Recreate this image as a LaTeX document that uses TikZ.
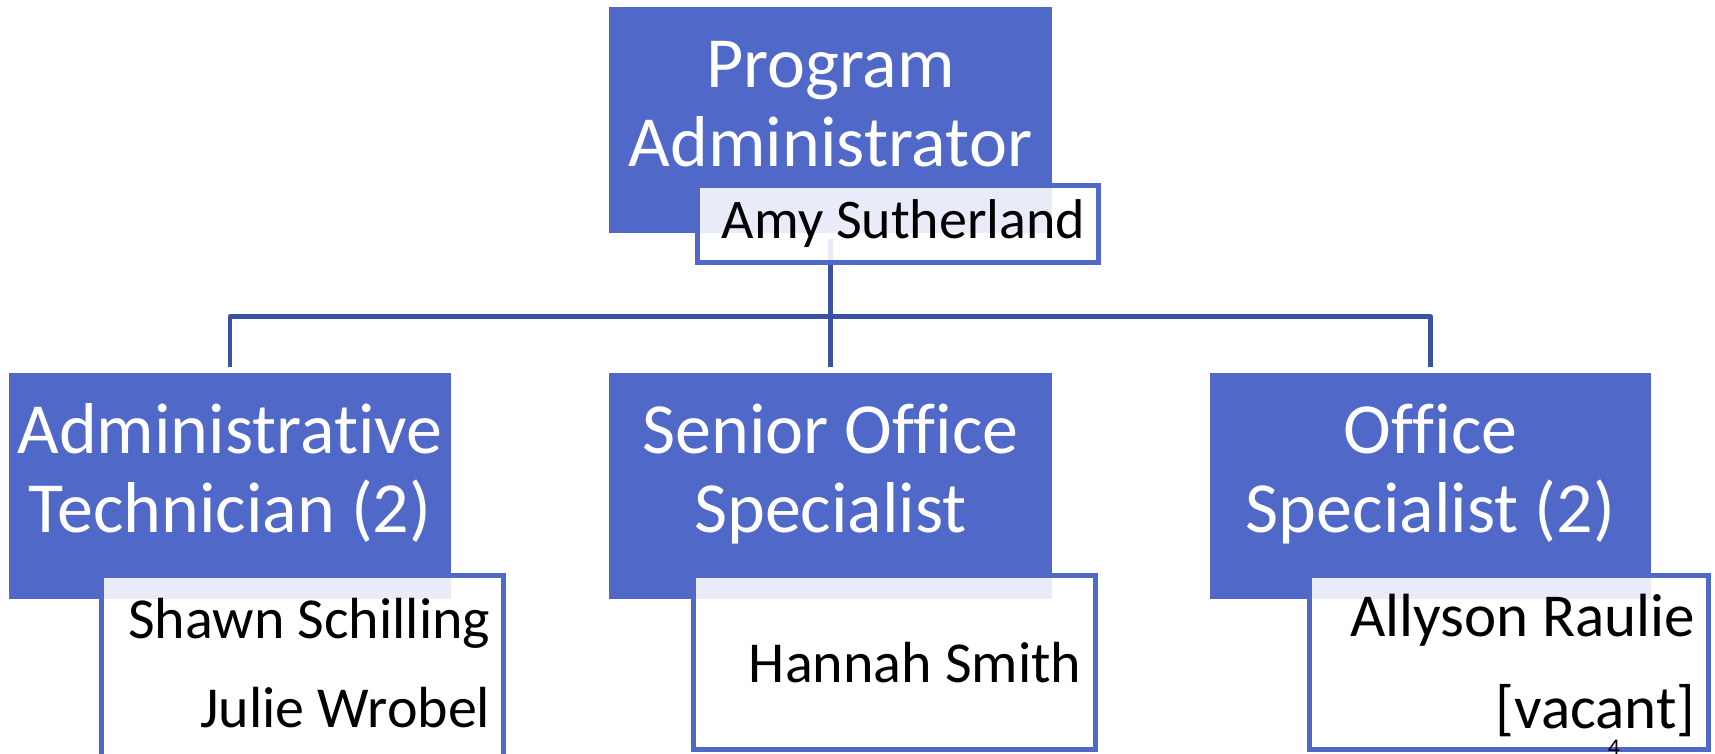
\documentclass[tikz,border=0pt]{standalone}
\usepackage{fontspec}
\setmainfont{Carlito}[Ligatures=NoCommon]
\usetikzlibrary{calc,backgrounds}

\definecolor{roleblue}{RGB}{80,104,200}
\definecolor{linkblue}{RGB}{59,82,164}

\tikzset{
  rolebox/.style={rectangle, fill=roleblue, draw=none, inner sep=0pt, outer sep=0pt, anchor=north west},
  namebox/.style={rectangle, fill=white, fill opacity=0.88, draw=roleblue, line width=4.6pt,
                  inner sep=0pt, outer sep=0pt, anchor=north west},
  roletext/.style={text=white, inner sep=0pt, anchor=base, font=\fontsize{72}{79}\selectfont},
  nametext/.style={text=black, inner sep=0pt, anchor=base east},
  link/.style={draw=linkblue, line width=4.7pt, line join=round},
}

\begin{document}
\begin{tikzpicture}[x=1pt, y=-1pt]
  \useasboundingbox (0,0) rectangle (1715,753);
  \clip (0,0) rectangle (1715,753);

  % role boxes
  \node[rolebox, minimum width=443pt, minimum height=226pt] (pa)  at (609,7)   {};
  \node[rolebox, minimum width=442pt, minimum height=226pt] (at)  at (9,373)   {};
  \node[rolebox, minimum width=443pt, minimum height=226pt] (sos) at (609,373) {};
  \node[rolebox, minimum width=441pt, minimum height=226pt] (osr) at (1210,373) {};

  % role titles
  \node[roletext] (pa-title)  at ($(pa.north)+(0,80)$)
    {\begin{tabular}[t]{@{}c@{}}Program\\Administrator\end{tabular}};
  \node[roletext] (at-title)  at ($(at.north)+(0,80)$)
    {\begin{tabular}[t]{@{}c@{}}Administrative\\Technician (2)\end{tabular}};
  \node[roletext] (sos-title) at ($(sos.north)+(0,80)$)
    {\begin{tabular}[t]{@{}c@{}}Senior Office\\Specialist\end{tabular}};
  \node[roletext] (osr-title) at ($(osr.north)+(0,80)$)
    {\begin{tabular}[t]{@{}c@{}}Office\\Specialist (2)\end{tabular}};

  % name boxes
  \node[namebox, minimum width=401pt, minimum height=77pt]  (pa-name)  at (697.5,185.5)  {};
  \node[namebox, minimum width=402pt, minimum height=200pt] (at-name)  at (101.5,575.5)  {};
  \node[namebox, minimum width=402pt, minimum height=174pt] (sos-name) at (693.5,575.5)  {};
  \node[namebox, minimum width=399pt, minimum height=174pt] (osr-name) at (1309.5,575.5) {};

  % names
  \node[nametext, font=\fontsize{56}{70}\selectfont] (pa-who)
    at ($(pa-name.north east)+(-13,52.5)$) {Amy Sutherland};
  \node[nametext, font=\fontsize{58}{89}\selectfont] (at-who)
    at ($(at-name.north east)+(-13,62.5)$)
    {\begin{tabular}[t]{@{}r@{}}Shawn Schilling\\Julie Wrobel\end{tabular}};
  \node[nametext, font=\fontsize{58}{70}\selectfont] (sos-who)
    at ($(sos-name.north east)+(-14,106.5)$) {Hannah Smith};
  \node[nametext, font=\fontsize{61}{92}\selectfont] (osr-who)
    at ($(osr-name.north east)+(-13,61)$)
    {\begin{tabular}[t]{@{}r@{}}Allyson Raulie\\{[vacant]}\end{tabular}};

  % page number
  \node[font=\fontsize{24}{29}\selectfont, inner sep=0pt, anchor=base] (pagenum) at (1614,755) {4};

  % reporting lines
  \begin{pgfonlayer}{background}
    \coordinate (bus) at ($(pa.south)+(0,83.5)$);
    \draw[link] ($(pa.south)+(0,6)$) -- ($(sos.north)+(0,-6)$);
    \draw[link] ($(at.north)+(0,-6)$) |- (bus) -| ($(osr.north)+(0,-6)$);
  \end{pgfonlayer}
\end{tikzpicture}
\end{document}
